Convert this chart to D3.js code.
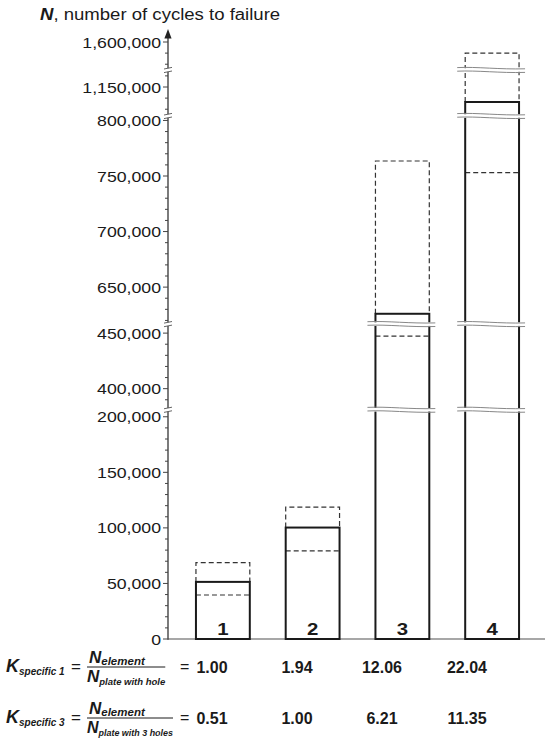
<!DOCTYPE html>
<meta charset="utf-8">
<title>Number of cycles to failure</title>
<style>
  body { margin: 0; background: #fff; }
  text { font-family: "Liberation Sans", Arial, sans-serif; fill: #1a1a1a; }
</style>
<svg width="550" height="747"></svg>
<script src="https://d3js.org/d3.v7.min.js"></script>
<script>

// ---- data ----
var categories = ["1", "2", "3", "4"];
var meanN = [51400, 100300, 626000, 1136500];   // solid bar tops
var minN  = [39600, 79300, 447300, 753000];     // lower dashed lines
var maxN  = [68700, 118600, 763500, 1590000];   // upper dashed boxes
var kPlateHole   = ["1.00", "1.94", "12.06", "22.04"];
var kPlate3Holes = ["0.51", "1.00", "6.21", "11.35"];
// visible pieces of the broken y axis
var axisSegments = [[0, 206300], [381000, 458100], [616700, 804000], [1123900, 1165300], [1574800, 1611700]];
var majorStep = 50000, minorStep = 10000;

var svg = d3.select("svg");
var SX = 1.18; // the original text is drawn horizontally stretched

var yBottom = 639, yTop = 29, axisX = 168;

// piecewise scale: every segment gets the same px per unit, breaks have no gap
var total = d3.sum(axisSegments, function(s) { return s[1] - s[0]; });
var k = (yBottom - yTop) / total;
var dom = [], rng = [], acc = yBottom;
axisSegments.forEach(function(s) {
  dom.push(s[0]); rng.push(acc);
  acc -= (s[1] - s[0]) * k;
  dom.push(s[1]); rng.push(acc);
});
var y = d3.scaleLinear().domain(dom).range(rng);

var x = d3.scaleBand()
    .domain(categories)
    .range([178, 537])
    .paddingInner(0.4)
    .paddingOuter(0.2);

var col = d3.scalePoint().domain(categories).range([212, 467]);

var fmt = d3.format(",");

function stext(g, px, py, str, size, weight, anchor, sx) {
  return g.append("text")
      .attr("transform", "translate(" + px + "," + py + ") scale(" + (sx || SX) + ",1)")
      .attr("font-size", size)
      .attr("font-weight", weight || "normal")
      .attr("text-anchor", anchor || "start")
      .text(str);
}

// ---- axes ----
var axis = svg.append("g");

axis.append("line")
    .attr("x1", axisX).attr("x2", 545)
    .attr("y1", yBottom).attr("y2", yBottom)
    .attr("stroke", "#8a8a8a").attr("stroke-width", 1.5);

axis.append("line")
    .attr("x1", axisX).attr("x2", axisX)
    .attr("y1", yBottom + 0.7).attr("y2", yTop + 6)
    .attr("stroke", "#444").attr("stroke-width", 1.4);

axis.append("path")
    .attr("d", "M" + axisX + "," + yTop + "l-3.6,9.5h7.2z")
    .attr("fill", "#222");

axisSegments.forEach(function(s) {
  var ticks = d3.range(Math.ceil(s[0] / minorStep) * minorStep, s[1], minorStep)
      .filter(function(v) { return y(v) > yTop + 8 || v % majorStep === 0; });
  ticks.forEach(function(v) {
    var major = v % majorStep === 0;
    axis.append("line")
        .attr("x1", axisX - (major ? 5 : 3)).attr("x2", axisX)
        .attr("y1", y(v)).attr("y2", y(v))
        .attr("stroke", "#444").attr("stroke-width", 1);
    if (major) stext(axis, axisX - 7, y(v) + 5.5, fmt(v), 15, "normal", "end");
  });
});

// break marks on the axis
axisSegments.slice(1).forEach(function(s) {
  var yb = y(s[0]);
  var m = axis.append("g");
  m.append("rect").attr("x", axisX - 4).attr("y", yb - 1.8).attr("width", 8).attr("height", 3.6).attr("fill", "#fff");
  [-1.8, 1.8].forEach(function(o) {
    m.append("line")
        .attr("x1", axisX - 4).attr("x2", axisX + 4)
        .attr("y1", yb + o + 0.8).attr("y2", yb + o - 0.8)
        .attr("stroke", "#555").attr("stroke-width", 0.9);
  });
});

// title
var t = svg.append("text")
    .attr("transform", "translate(40,20) scale(1.16,1)")
    .attr("font-size", 16);
t.append("tspan").attr("font-weight", "bold").attr("font-style", "italic").text("N");
t.append("tspan").text(", number of cycles to failure");

// ---- bars ----
var bars = svg.append("g");
var bw = x.bandwidth();

categories.forEach(function(c, i) {
  var x0 = x(c), x1 = x(c) + bw;
  var g = bars.append("g");
  // dashed extension from mean to max
  g.append("path")
      .attr("d", "M" + x0 + "," + y(meanN[i]) + "V" + y(maxN[i]) + "H" + x1 + "V" + y(meanN[i]))
      .attr("fill", "none").attr("stroke", "#333").attr("stroke-width", 1.2)
      .attr("stroke-dasharray", "5,3");
  // lower dashed line
  g.append("line")
      .attr("x1", x0).attr("x2", x1)
      .attr("y1", y(minN[i])).attr("y2", y(minN[i]))
      .attr("stroke", "#333").attr("stroke-width", 1.2)
      .attr("stroke-dasharray", "5,3");
  // solid bar
  g.append("rect")
      .attr("x", x0).attr("y", y(meanN[i]))
      .attr("width", bw).attr("height", yBottom - y(meanN[i]))
      .attr("fill", "none").attr("stroke", "#1a1a1a").attr("stroke-width", 2);
  stext(g, x0 + bw / 2, yBottom - 4, c, 17, "bold", "middle", 1.2);

  // break marks where the bar passes an axis break
  axisSegments.slice(1).forEach(function(s) {
    if (maxN[i] <= s[0]) return;
    var yb = y(s[0]);
    var bx0 = x0 - 8, bx1 = x1 + 6;
    g.append("rect").attr("x", bx0).attr("y", yb - 1.8).attr("width", bx1 - bx0).attr("height", 3.6).attr("fill", "#fff");
    [-1.8, 1.8].forEach(function(o) {
      var yy = yb + o;
      g.append("path")
          .attr("d", "M" + bx0 + "," + (yy - 0.6) + "C" + (bx0 + 20) + "," + (yy - 1.6) + " " + (bx1 - 25) + "," + (yy + 1.4) + " " + bx1 + "," + (yy + 0.6))
          .attr("fill", "none").attr("stroke", "#888").attr("stroke-width", 1);
    });
  });
});

// ---- formula rows ----
var rows = [
  { sub: "specific 1", den: "plate with hole", vals: kPlateHole, cy: 667 },
  { sub: "specific 3", den: "plate with 3 holes", vals: kPlate3Holes, cy: 718 }
];

var fracX = 87, fracMax = 86;

var fr = svg.append("g");
rows.forEach(function(r) {
  var kt = fr.append("text").attr("x", 6).attr("y", r.cy + 5)
      .attr("font-weight", "bold").attr("font-style", "italic");
  kt.append("tspan").attr("font-size", 18).text("K");
  kt.append("tspan").attr("font-size", 10).attr("dy", 3).text(r.sub);

  fr.append("text").attr("x", 71).attr("y", r.cy + 5).attr("font-size", 17).text("=");

  var num = fr.append("text")
      .attr("transform", "translate(" + (fracX + 2) + "," + (r.cy - 4) + ")")
      .attr("font-weight", "bold").attr("font-style", "italic");
  num.append("tspan").attr("font-size", 17).text("N");
  num.append("tspan").attr("font-size", 11.5).attr("dy", 1.5).text("element");

  var den = fr.append("text")
      .attr("font-weight", "bold").attr("font-style", "italic");
  den.append("tspan").attr("font-size", 17).text("N");
  den.append("tspan").attr("font-size", 9.5).attr("dy", 3).text(r.den);
  // squeeze a long denominator so it stays left of the "=" sign
  var dw = den.node().getComputedTextLength();
  var ds = Math.min(1, fracMax / dw);
  den.attr("transform", "translate(" + fracX + "," + (r.cy + 15) + ") scale(" + ds + ",1)");

  var w = Math.max(num.node().getComputedTextLength() + 2, dw * ds);
  fr.append("line")
      .attr("x1", fracX).attr("x2", fracX + w)
      .attr("y1", r.cy).attr("y2", r.cy)
      .attr("stroke", "#1a1a1a").attr("stroke-width", 1);

  fr.append("text").attr("x", 180).attr("y", r.cy + 5).attr("font-size", 16).text("=");

  categories.forEach(function(c, i) {
    fr.append("text")
        .attr("x", col(c)).attr("y", r.cy + 6)
        .attr("font-size", 16).attr("font-weight", "bold")
        .attr("text-anchor", "middle")
        .text(r.vals[i]);
  });
});

</script>
